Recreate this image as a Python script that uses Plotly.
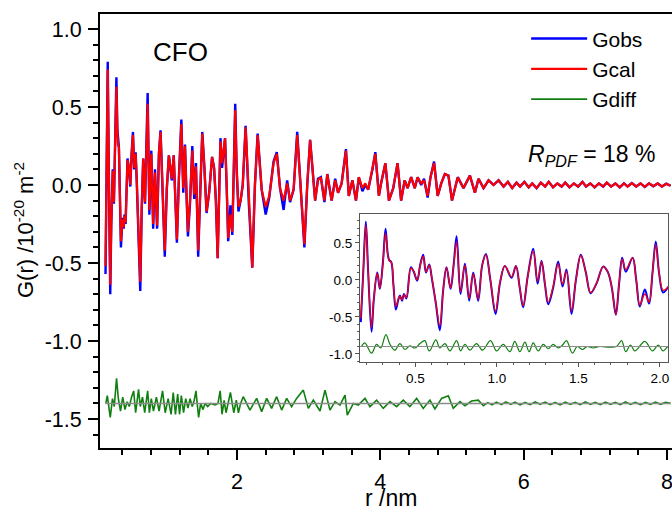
import plotly.graph_objects as go

# ---------------- data ----------------
r_nm = [0.165, 0.180, 0.196, 0.210, 0.231, 0.245, 0.266, 0.282, 0.300, 0.317,
        0.330, 0.339, 0.352, 0.365, 0.380, 0.395, 0.405, 0.418, 0.430, 0.445,
        0.472, 0.490, 0.511, 0.530, 0.548, 0.565, 0.585, 0.601, 0.625, 0.650,
        0.670, 0.691, 0.716, 0.735, 0.753, 0.777, 0.804, 0.830, 0.855, 0.885,
        0.910, 0.933, 0.960, 0.992, 1.020, 1.049, 1.090, 1.117, 1.140, 1.161,
        1.190, 1.223, 1.250, 1.274, 1.295, 1.315, 1.345, 1.376, 1.403, 1.427,
        1.458, 1.485, 1.515, 1.545, 1.575, 1.611, 1.652, 1.680, 1.705, 1.730,
        1.750, 1.769, 1.791, 1.833, 1.855, 1.877, 1.908, 1.934, 1.955, 1.975,
        1.995, 2.020, 2.050,
        2.080, 2.120, 2.166, 2.213, 2.250, 2.288, 2.344, 2.400, 2.450, 2.510,
        2.555, 2.600, 2.650, 2.700, 2.740, 2.790, 2.840, 2.890, 2.940, 2.980,
        3.020, 3.090, 3.130, 3.170, 3.220, 3.260, 3.320, 3.370, 3.410, 3.460,
        3.520, 3.560, 3.610, 3.660, 3.700, 3.750, 3.790, 3.830, 3.890, 3.930,
        3.980, 4.010, 4.070, 4.120, 4.180, 4.240, 4.290, 4.340, 4.380, 4.430,
        4.480, 4.520, 4.570, 4.610, 4.660, 4.700, 4.750, 4.800, 4.850, 4.900,
        4.950, 5.000, 5.080, 5.160, 5.250, 5.320, 5.370, 5.440, 5.510, 5.580,
        5.650, 5.720,
        5.78, 5.84, 5.90, 5.95, 6.01, 6.07, 6.12, 6.18, 6.24, 6.30,
        6.35, 6.41, 6.47, 6.53, 6.58, 6.64, 6.70, 6.76, 6.82, 6.87,
        6.93, 6.99, 7.05, 7.11, 7.16, 7.22, 7.28, 7.34, 7.40, 7.45,
        7.51, 7.57, 7.63, 7.69, 7.75, 7.81, 7.87, 7.93, 7.99, 8.05]

g_cal = [-0.52, 0.10, 0.74, 0.12, -0.64, -0.25, 0.09, -0.11, 0.20, 0.63,
         0.35, 0.26, 0.24, -0.05, -0.36, -0.26, -0.22, -0.27, -0.20, -0.24,
         0.16, 0.12, 0.00, 0.20, 0.32, 0.11, 0.20, 0.03, -0.30, -0.62,
         -0.15, 0.17, -0.11, 0.20, 0.52, -0.16, 0.20, -0.25, 0.08, -0.26,
         0.20, 0.34, 0.00, -0.42, -0.02, 0.19, 0.04, 0.19, -0.10, -0.35,
         0.05, 0.39, -0.02, 0.25, -0.05, -0.30, -0.09, 0.22, -0.06, 0.12,
         -0.42, 0.00, 0.33, 0.11, -0.17, -0.05, 0.18, 0.11, -0.10, -0.47,
         -0.05, 0.28, 0.14, 0.30, 0.00, -0.34, -0.19, -0.30, 0.10, 0.48,
         0.10, -0.14, -0.10,
         0.00, 0.37, -0.12, -0.53, 0.00, 0.32, -0.03, -0.14, -0.07, 0.14,
         0.20, -0.02, -0.10, 0.01, -0.10, -0.03, 0.32, -0.03, -0.38, 0.00,
         0.29, -0.10, 0.03, 0.05, -0.10, 0.07, -0.10, 0.03, -0.05, 0.01,
         0.22, -0.07, 0.03, -0.10, 0.05, -0.02, 0.01, -0.03, 0.10, 0.20,
         -0.07, 0.01, 0.14, -0.10, -0.02, 0.14, -0.10, 0.03, -0.02, 0.05,
         -0.02, 0.05, 0.01, 0.03, -0.07, 0.05, 0.14, -0.07, 0.01, 0.07,
         0.06, -0.10, 0.05, -0.02, 0.06, -0.05, 0.04, -0.02, 0.03, 0.00,
         0.03, -0.01,
         0.02, -0.02, 0.015, -0.01, 0.02, -0.015, 0.01, -0.02, 0.015, -0.01,
         0.02, -0.015, 0.01, -0.01, 0.015, -0.015, 0.01, -0.01, 0.02, -0.01,
         0.01, -0.015, 0.01, -0.01, 0.015, -0.01, 0.01, -0.015, 0.01, -0.01,
         0.012, -0.01, 0.01, -0.012, 0.01, -0.008, 0.01, -0.01, 0.008, -0.005]

g_obs = [-0.57, 0.10, 0.79, 0.12, -0.70, -0.26, 0.10, -0.12, 0.22, 0.69,
         0.36, 0.27, 0.24, -0.06, -0.40, -0.27, -0.21, -0.28, -0.19, -0.25,
         0.17, 0.11, -0.01, 0.21, 0.34, 0.10, 0.21, 0.02, -0.31, -0.68,
         -0.15, 0.17, -0.12, 0.21, 0.59, -0.19, 0.22, -0.28, 0.10, -0.28,
         0.20, 0.35, 0.00, -0.46, -0.03, 0.19, 0.03, 0.19, -0.10, -0.37,
         0.06, 0.42, -0.05, 0.26, -0.06, -0.33, -0.11, 0.25, -0.09, 0.14,
         -0.46, 0.00, 0.34, 0.11, -0.18, -0.05, 0.18, 0.11, -0.10, -0.47,
         -0.05, 0.30, 0.11, 0.30, 0.00, -0.36, -0.13, -0.32, 0.10, 0.52,
         0.10, -0.17, -0.10,
         0.00, 0.38, -0.13, -0.53, 0.00, 0.33, -0.03, -0.19, -0.08, 0.15,
         0.21, -0.02, -0.16, 0.03, -0.11, -0.03, 0.34, -0.03, -0.40, 0.00,
         0.29, -0.10, 0.04, 0.05, -0.11, 0.07, -0.10, 0.04, -0.05, 0.01,
         0.23, -0.07, 0.03, -0.10, 0.05, -0.04, 0.00, -0.03, 0.10, 0.21,
         -0.07, 0.01, 0.14, -0.10, -0.02, 0.14, -0.10, 0.03, -0.02, 0.05,
         -0.02, 0.05, 0.00, 0.04, -0.08, 0.05, 0.15, -0.07, 0.01, 0.07,
         0.06, -0.10, 0.05, -0.02, 0.06, -0.05, 0.04, -0.02, 0.03, 0.00,
         0.03, -0.01,
         0.02, -0.02, 0.015, -0.01, 0.02, -0.015, 0.01, -0.02, 0.015, -0.01,
         0.02, -0.015, 0.01, -0.01, 0.015, -0.015, 0.01, -0.01, 0.02, -0.01,
         0.01, -0.015, 0.01, -0.01, 0.015, -0.01, 0.01, -0.015, 0.01, -0.01,
         0.012, -0.01, 0.01, -0.012, 0.01, -0.008, 0.01, -0.01, 0.008, -0.005]

r_diff = [0.169, 0.190, 0.231, 0.262, 0.287, 0.319, 0.344, 0.374, 0.405, 0.436,
          0.466, 0.497, 0.528, 0.558, 0.585, 0.626, 0.650, 0.681, 0.712, 0.753,
          0.777, 0.804, 0.834, 0.875, 0.912, 0.961, 0.998, 1.039, 1.080, 1.110,
          1.141, 1.172, 1.198, 1.223, 1.254, 1.284, 1.315, 1.345, 1.376, 1.403,
          1.427, 1.464, 1.493, 1.525, 1.554, 1.591, 1.632, 1.693, 1.734, 1.765,
          1.791, 1.820, 1.847, 1.908, 1.955, 1.990, 2.020, 2.050,
          2.087, 2.180, 2.274, 2.344, 2.414, 2.483, 2.553, 2.623, 2.693, 2.762,
          2.832, 2.925, 2.995, 3.065, 3.158, 3.228, 3.297, 3.367, 3.437, 3.507,
          3.539, 3.623, 3.693, 3.786, 3.855, 3.948, 4.041, 4.134, 4.227, 4.320,
          4.413, 4.506, 4.599, 4.692, 4.762, 4.855, 4.948, 5.018, 5.111, 5.181,
          5.274, 5.367, 5.437,
          5.50, 5.56, 5.62, 5.69, 5.75, 5.82, 5.88, 5.95, 6.02, 6.09,
          6.16, 6.23, 6.30, 6.37, 6.44, 6.51, 6.58, 6.65, 6.72, 6.79,
          6.86, 6.93, 7.00, 7.07, 7.14, 7.21, 7.28, 7.35, 7.42, 7.49,
          7.56, 7.63, 7.70, 7.77, 7.84, 7.91, 7.98, 8.05]

g_diff = [0.00, 0.05, -0.09, 0.03, -0.02, 0.16, 0.03, -0.05, 0.04, -0.04,
          0.01, -0.02, 0.04, 0.08, -0.06, 0.09, -0.02, 0.04, -0.06, 0.08,
          -0.06, 0.03, -0.05, 0.04, -0.05, 0.08, -0.06, 0.03, -0.07, 0.07,
          -0.07, 0.06, -0.07, 0.05, -0.06, 0.03, -0.03, 0.03, -0.02, 0.02,
          0.08, -0.09, 0.00, -0.04, 0.00, -0.02, 0.00, -0.01, 0.00, 0.08,
          -0.07, 0.02, -0.06, 0.07, -0.06, 0.02, -0.06, 0.00,
          0.043, -0.043, 0.032, -0.053, 0.032, -0.032, 0.043, -0.043, 0.032, -0.021,
          0.032, 0.085, -0.032, 0.021, -0.049, 0.085, -0.043, 0.011, -0.011, 0.053,
          -0.075, 0.000, -0.011, 0.032, -0.021, 0.021, -0.032, 0.011, -0.021, 0.021,
          -0.021, 0.032, -0.032, 0.021, -0.036, 0.032, 0.049, -0.032, 0.011, -0.015,
          0.015, 0.021, -0.015,
          0.005, -0.010, 0.008, -0.008, 0.010, -0.006, 0.008, -0.010, 0.006, -0.008,
          0.010, -0.006, 0.008, -0.008, 0.006, -0.010, 0.008, -0.006, 0.006, -0.008,
          0.010, -0.006, 0.006, -0.008, 0.008, -0.006, 0.006, -0.008, 0.010, -0.006,
          0.006, -0.008, 0.006, -0.006, 0.008, -0.006, 0.006, 0.000]

main_yticks = [-1.5, -1.0, -0.5, 0.0, 0.5, 1.0]
main_yticktext = ["-1.5", "-1.0", "-0.5", "0.0", "0.5", "1.0"]
main_xticks = [2, 4, 6, 8]
main_xticktext = ["2", "4", "6", "8"]
inset_yticks = [-1.0, -0.5, 0.0, 0.5]
inset_yticktext = ["-1.0", "-0.5", "0.0", "0.5"]
inset_xticks = [0.5, 1.0, 1.5, 2.0]
inset_xticktext = ["0.5", "1.0", "1.5", "2.0"]

# ---------------- styling constants ----------------
DIFF_OFFSET_MAIN = -1.4
DIFF_OFFSET_INSET = -0.9
BLUE = "#0000ff"
RED = "#ff0000"
GREEN = "#107f10"
GREY = "#8c8c8c"
FONT = "Arial"

fig = go.Figure()

# main panel
fig.add_trace(go.Scatter(x=r_nm, y=g_obs, mode="lines", name="Gobs",
                         line=dict(color=BLUE, width=2.4)))
fig.add_trace(go.Scatter(x=r_nm, y=g_cal, mode="lines", name="Gcal",
                         line=dict(color=RED, width=2.2)))
fig.add_trace(go.Scatter(x=r_diff, y=[d + DIFF_OFFSET_MAIN for d in g_diff],
                         mode="lines", name="Gdiff",
                         line=dict(color=GREEN, width=1.6)))
fig.add_trace(go.Scatter(x=[r_nm[0], r_nm[-1]],
                         y=[DIFF_OFFSET_MAIN, DIFF_OFFSET_MAIN], mode="lines",
                         showlegend=False, line=dict(color=GREY, width=1.5)))

# inset
fig.add_trace(go.Scatter(x=r_nm, y=g_obs, mode="lines", showlegend=False,
                         xaxis="x2", yaxis="y2", line_shape="spline",
                         line=dict(color=BLUE, width=2.0)))
fig.add_trace(go.Scatter(x=r_nm, y=g_cal, mode="lines", showlegend=False,
                         xaxis="x2", yaxis="y2", line_shape="spline",
                         line=dict(color=RED, width=1.3)))
fig.add_trace(go.Scatter(x=r_diff, y=[d + DIFF_OFFSET_INSET for d in g_diff],
                         mode="lines", showlegend=False, xaxis="x2", yaxis="y2",
                         line_shape="spline", line=dict(color=GREEN, width=1.2)))
fig.add_trace(go.Scatter(x=[0.1, 2.2], y=[DIFF_OFFSET_INSET, DIFF_OFFSET_INSET],
                         mode="lines", showlegend=False, xaxis="x2", yaxis="y2",
                         line=dict(color=GREY, width=1.2)))

fig.update_layout(
    width=672, height=509,
    margin=dict(l=100, r=0, t=14, b=61),
    paper_bgcolor="white", plot_bgcolor="white",
    font=dict(family=FONT, color="black"),
    showlegend=True,
    legend=dict(x=0.745, y=0.99, xanchor="left", yanchor="top",
                bgcolor="rgba(0,0,0,0)", font=dict(size=21, family=FONT),
                itemwidth=56, tracegroupgap=0),
    xaxis=dict(range=[0.088, 8.07], domain=[0, 1], showgrid=False, zeroline=False,
               showline=True, linecolor="black", linewidth=2, mirror=True,
               ticks="outside", ticklen=10, tickwidth=2, tickcolor="black",
               tickvals=main_xticks, ticktext=main_xticktext,
               tickfont=dict(size=21.5), ticklabelstandoff=3,
               ticklabeloverflow="allow",
               minor=dict(dtick=0.4, tick0=0, ticks="outside", ticklen=5,
                          tickwidth=2, tickcolor="black")),
    yaxis=dict(range=[-1.686, 1.096], domain=[0, 1], showgrid=False, zeroline=False,
               showline=True, linecolor="black", linewidth=2, mirror=False,
               ticks="outside", ticklen=10, tickwidth=2, tickcolor="black",
               tickvals=main_yticks, ticktext=main_yticktext,
               tickfont=dict(size=21.5), ticklabelstandoff=2,
               ticklabeloverflow="allow",
               minor=dict(dtick=0.1, tick0=0, ticks="outside", ticklen=5,
                          tickwidth=2, tickcolor="black")),
    xaxis2=dict(range=[0.16, 2.05], domain=[0.4545, 0.993], anchor="y2",
                showgrid=False, zeroline=False, showline=True, linecolor="#555",
                linewidth=1, mirror=True, ticks="outside", ticklen=4, tickwidth=1,
                tickcolor="#555", tickvals=inset_xticks, ticktext=inset_xticktext,
                tickfont=dict(size=13.5), ticklabeloverflow="allow",
                minor=dict(dtick=0.1, tick0=0, ticks="outside", ticklen=2,
                           tickwidth=1, tickcolor="#555")),
    yaxis2=dict(range=[-1.11, 0.89], domain=[0.198, 0.539], anchor="x2",
                showgrid=False, zeroline=False, showline=True, linecolor="#555",
                linewidth=1, mirror=True, ticks="outside", ticklen=4, tickwidth=1,
                tickcolor="#555", tickvals=inset_yticks, ticktext=inset_yticktext,
                tickfont=dict(size=13.5), ticklabeloverflow="allow",
                minor=dict(dtick=0.1, tick0=0, ticks="outside", ticklen=2,
                           tickwidth=1, tickcolor="#555")),
    annotations=[
        dict(text="CFO", x=0.14, y=0.912, xref="paper", yref="paper",
             xanchor="center", yanchor="middle",
             showarrow=False, font=dict(size=26, family=FONT)),
        dict(text="<i>R</i><sub><i>PDF</i></sub> = 18 %", x=0.86, y=0.675,
             xref="paper", yref="paper", xanchor="center", yanchor="middle",
             showarrow=False, font=dict(size=23, family=FONT)),
        dict(text="r /nm", x=0.509, y=-0.115, xref="paper", yref="paper",
             xanchor="center", yanchor="middle",
             showarrow=False, font=dict(size=23, family=FONT)),
        dict(text="G(r) /10<sup>-20</sup> m<sup>-2</sup>", x=-0.133, y=0.502,
             xref="paper", yref="paper", xanchor="center", yanchor="middle",
             showarrow=False, textangle=-90,
             font=dict(size=22, family=FONT)),
    ],
)

fig.write_html("out.html")
